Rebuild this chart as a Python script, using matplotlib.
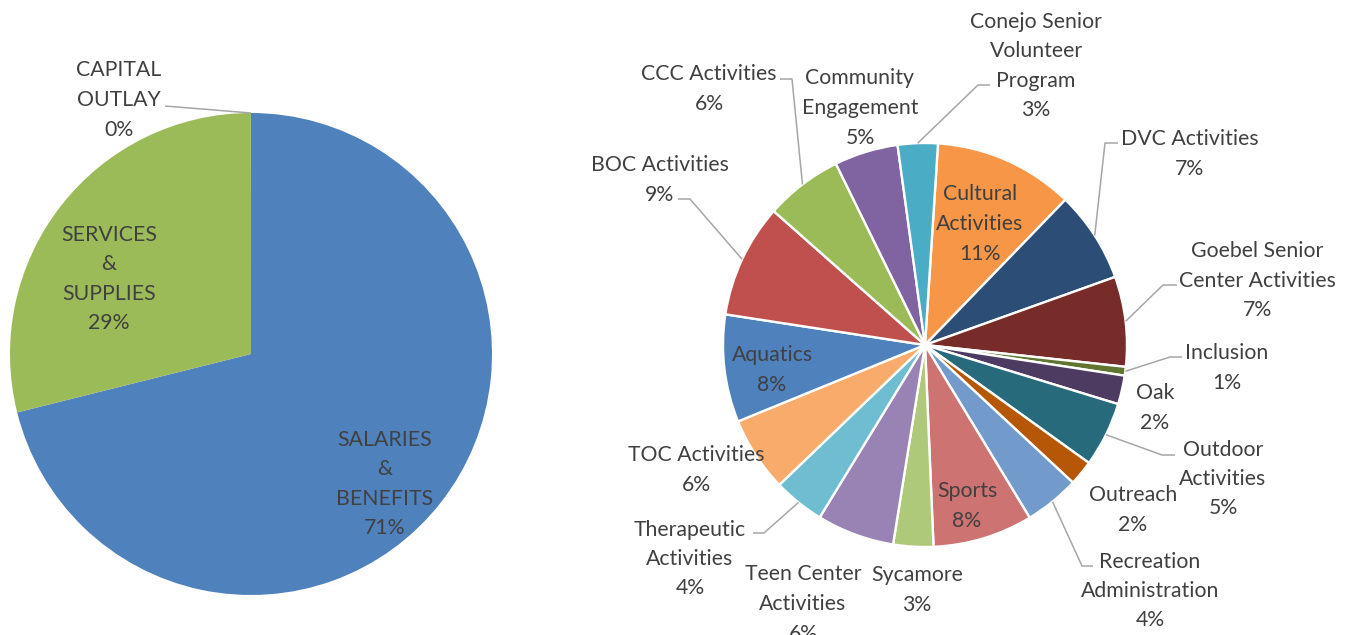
import numpy as np
import matplotlib.pyplot as plt

plt.rcParams['font.family'] = ['Lato', 'DejaVu Sans']

# left pie: spending by type
left_names = ['SALARIES\n&\nBENEFITS', 'SERVICES\n&\nSUPPLIES', 'CAPITAL\nOUTLAY']
left_values = [71.1, 28.895, 0.005]
left_pct = ['71%', '29%', '0%']
left_colors = ['#4F81BD', '#9BBB59', '#9BBB59']

# right pie: spending by program (clockwise from top)
right_names = ['Cultural\nActivities', 'DVC Activities', 'Goebel Senior\nCenter Activities',
               'Inclusion', 'Oak', 'Outdoor\nActivities', 'Outreach',
               'Recreation\nAdministration', 'Sports', 'Sycamore',
               'Teen Center\nActivities', 'Therapeutic\nActivities', 'TOC Activities',
               'Aquatics', 'BOC Activities', 'CCC Activities',
               'Community\nEngagement', 'Conejo Senior\nVolunteer\nProgram']
right_values = [11.2, 7.3, 7.2, 0.7, 2.3, 5.2, 2.0, 4.4, 8.0, 3.2,
                6.2, 4.1, 6.0, 8.6, 9.1, 6.2, 5.1, 3.2]
right_pct = ['11%', '7%', '7%', '1%', '2%', '5%', '2%', '4%', '8%', '3%',
             '6%', '4%', '6%', '8%', '9%', '6%', '5%', '3%']
right_colors = ['#F79646', '#2C4D75', '#772C2A', '#5F7530', '#4D3B62', '#276A7C',
                '#B65708', '#729ACA', '#CD7371', '#AFC97A', '#9983B5', '#6FBDD1',
                '#F9AB6B', '#4F81BD', '#C0504D', '#9BBB59', '#8064A2', '#4BACC6']

W, H = 1355, 635
TXT = '#404040'
LEAD = '#A6A6A6'
LS = 29.5  # line spacing in px
FS = 15.3

fig = plt.figure(figsize=(W / 100, H / 100), dpi=100)


def pie_axes(cx, cy, r):
    ax = fig.add_axes([(cx - r) / W, (H - cy - r) / H, 2 * r / W, 2 * r / H])
    return ax


def put_label(text, cx, cy):
    lines = text.split('\n')
    n = len(lines)
    for i, ln in enumerate(lines):
        y = cy + (i - (n - 1) / 2) * LS + 8
        fig.text(cx / W, 1 - y / H, ln, ha='center', va='baseline',
                 fontsize=FS, color=TXT)


def leader(ax, wedge, pts, cx, cy, r):
    mid = np.deg2rad((wedge.theta1 + wedge.theta2) / 2)
    xs = [np.cos(mid)] + [(p[0] - cx) / r for p in pts]
    ys = [np.sin(mid)] + [(cy - p[1]) / r for p in pts]
    ax.plot(xs, ys, color=LEAD, lw=1.1, clip_on=False, solid_capstyle='butt')


# ---- left pie
lcx, lcy, lr = 251, 354, 241
ax1 = pie_axes(lcx, lcy, lr)
w1, _ = ax1.pie(left_values, colors=left_colors, startangle=90, counterclock=False,
                radius=1, wedgeprops=dict(linewidth=0))
ax1.set_xlim(-1, 1)
ax1.set_ylim(-1, 1)
ax1.axis('off')

left_pos = [(385, 482), (109, 277), (119, 98)]
for name, pct, pos in zip(left_names, left_pct, left_pos):
    put_label(name + '\n' + pct, *pos)
leader(ax1, w1[2], [(165, 106)], lcx, lcy, lr)

# ---- right pie
rcx, rcy, rr = 925, 345, 202
ax2 = pie_axes(rcx, rcy, rr)
w2, _ = ax2.pie(right_values, colors=right_colors, startangle=90 - 3.7,
                counterclock=False, radius=1,
                wedgeprops=dict(edgecolor='white', linewidth=1.7))
ax2.set_xlim(-1, 1)
ax2.set_ylim(-1, 1)
ax2.axis('off')

right_pos = [(980, 222), (1190, 152), (1257, 279), (1227, 366), (1155, 406),
             (1223, 477), (1133, 508), (1150, 589), (967, 504), (917, 588),
             (803, 602), (690, 557), (696, 468), (772, 368), (660, 178),
             (709, 87), (860, 106), (1036, 64)]
for name, pct, pos in zip(right_names, right_pct, right_pos):
    put_label(name + '\n' + pct, *pos)

right_leaders = {
    1: [(1105, 143), (1118, 143)],
    2: [(1163, 285), (1177, 285)],
    3: [(1170, 357), (1182, 357)],
    5: [(1162, 455), (1175, 455)],
    7: [(1082, 566), (1093, 566)],
    11: [(764, 533), (753, 533)],
    14: [(690, 199), (678, 199)],
    15: [(792, 79), (780, 79)],
    17: [(978, 85), (990, 85)],
}
for i, pts in right_leaders.items():
    leader(ax2, w2[i], pts, rcx, rcy, rr)

fig.savefig('out.png', dpi=100, facecolor='white')
